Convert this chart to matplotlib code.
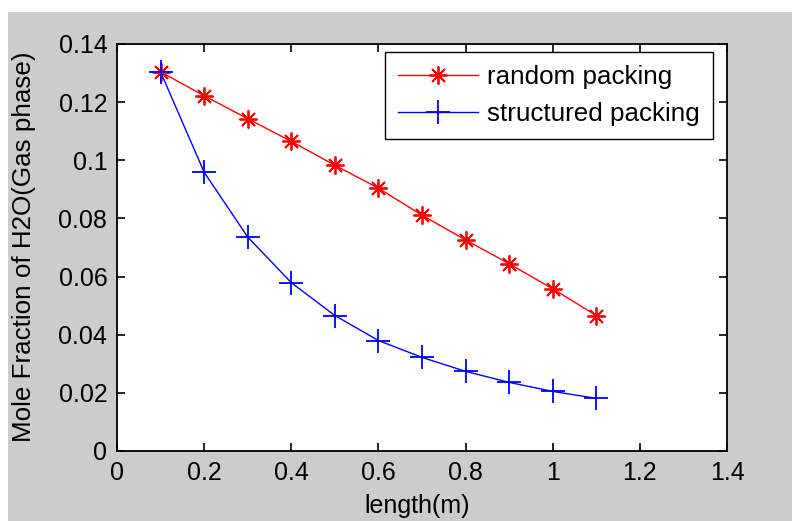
import matplotlib
matplotlib.use("Agg")
import matplotlib.pyplot as plt
from matplotlib.patches import Rectangle

length = [0.1, 0.2, 0.3, 0.4, 0.5, 0.6, 0.7, 0.8, 0.9, 1.0, 1.1]
random_packing = [0.1304, 0.1222, 0.1143, 0.1065, 0.0983, 0.0904, 0.0811, 0.0726, 0.0644, 0.0558, 0.0466]
structured_packing = [0.1304, 0.0959, 0.0736, 0.0579, 0.0466, 0.0380, 0.0322, 0.0274, 0.0236, 0.0205, 0.0181]
xticks = [0, 0.2, 0.4, 0.6, 0.8, 1, 1.2, 1.4]
xticklabels = ["0", "0.2", "0.4", "0.6", "0.8", "1", "1.2", "1.4"]
yticks = [0, 0.02, 0.04, 0.06, 0.08, 0.1, 0.12, 0.14]
yticklabels = ["0", "0.02", "0.04", "0.06", "0.08", "0.1", "0.12", "0.14"]

plt.rcParams['font.family'] = ['Liberation Sans', 'DejaVu Sans']

W, H = 792, 521
fig = plt.figure(figsize=(W/100, H/100), dpi=100, facecolor='#cccccc')
# white strip at the top and left margin
fig.patches.append(Rectangle((0, (H-12)/H), 1, 12/H, transform=fig.transFigure,
                             facecolor='white', edgecolor='none', zorder=0))
fig.patches.append(Rectangle((0, 0), 8/W, 1, transform=fig.transFigure,
                             facecolor='white', edgecolor='none', zorder=0))

L, R, T, B = 117, 727, 44, 451
ax = fig.add_axes([L/W, (H-B)/H, (R-L)/W, (B-T)/H])
ax.set_facecolor('white')

ax.plot(length, random_packing, color='red', lw=1.0, marker=(8, 2, 0), ms=13, mew=1.3,
        label='random packing')
ax.plot(length, structured_packing, color='blue', lw=1.0, marker='+', ms=17, mew=1.3,
        label='structured packing')

ax.set_xlim(0, 1.4)
ax.set_ylim(0, 0.14)
ax.set_xticks(xticks)
ax.set_xticklabels(xticklabels)
ax.set_yticks(yticks)
ax.set_yticklabels(yticklabels)
ax.tick_params(direction='in', length=6, width=1.2, top=True, right=True,
               labelsize=18, colors='black', pad=7)
for s in ax.spines.values():
    s.set_linewidth(1.3)
    s.set_color('black')

ax.set_xlabel('length(m)', fontsize=18)
ax.set_ylabel('Mole Fraction of H2O(Gas phase)', fontsize=18.7)
ax.xaxis.set_label_coords((417-L)/(R-L), (B-494)/(B-T))
ax.yaxis.set_label_coords((36-L)/(R-L), (B-247)/(B-T))

leg = ax.legend(loc='upper right', bbox_to_anchor=((713-L)/(R-L), (B-52)/(B-T)),
                borderaxespad=0, fontsize=18.7, frameon=True, fancybox=False,
                edgecolor='black', framealpha=1, handlelength=3.1, handletextpad=0.35,
                labelspacing=0.5, borderpad=0.5)
leg.get_frame().set_linewidth(1.0)

fig.savefig('out.png', dpi=100, facecolor=fig.get_facecolor())
